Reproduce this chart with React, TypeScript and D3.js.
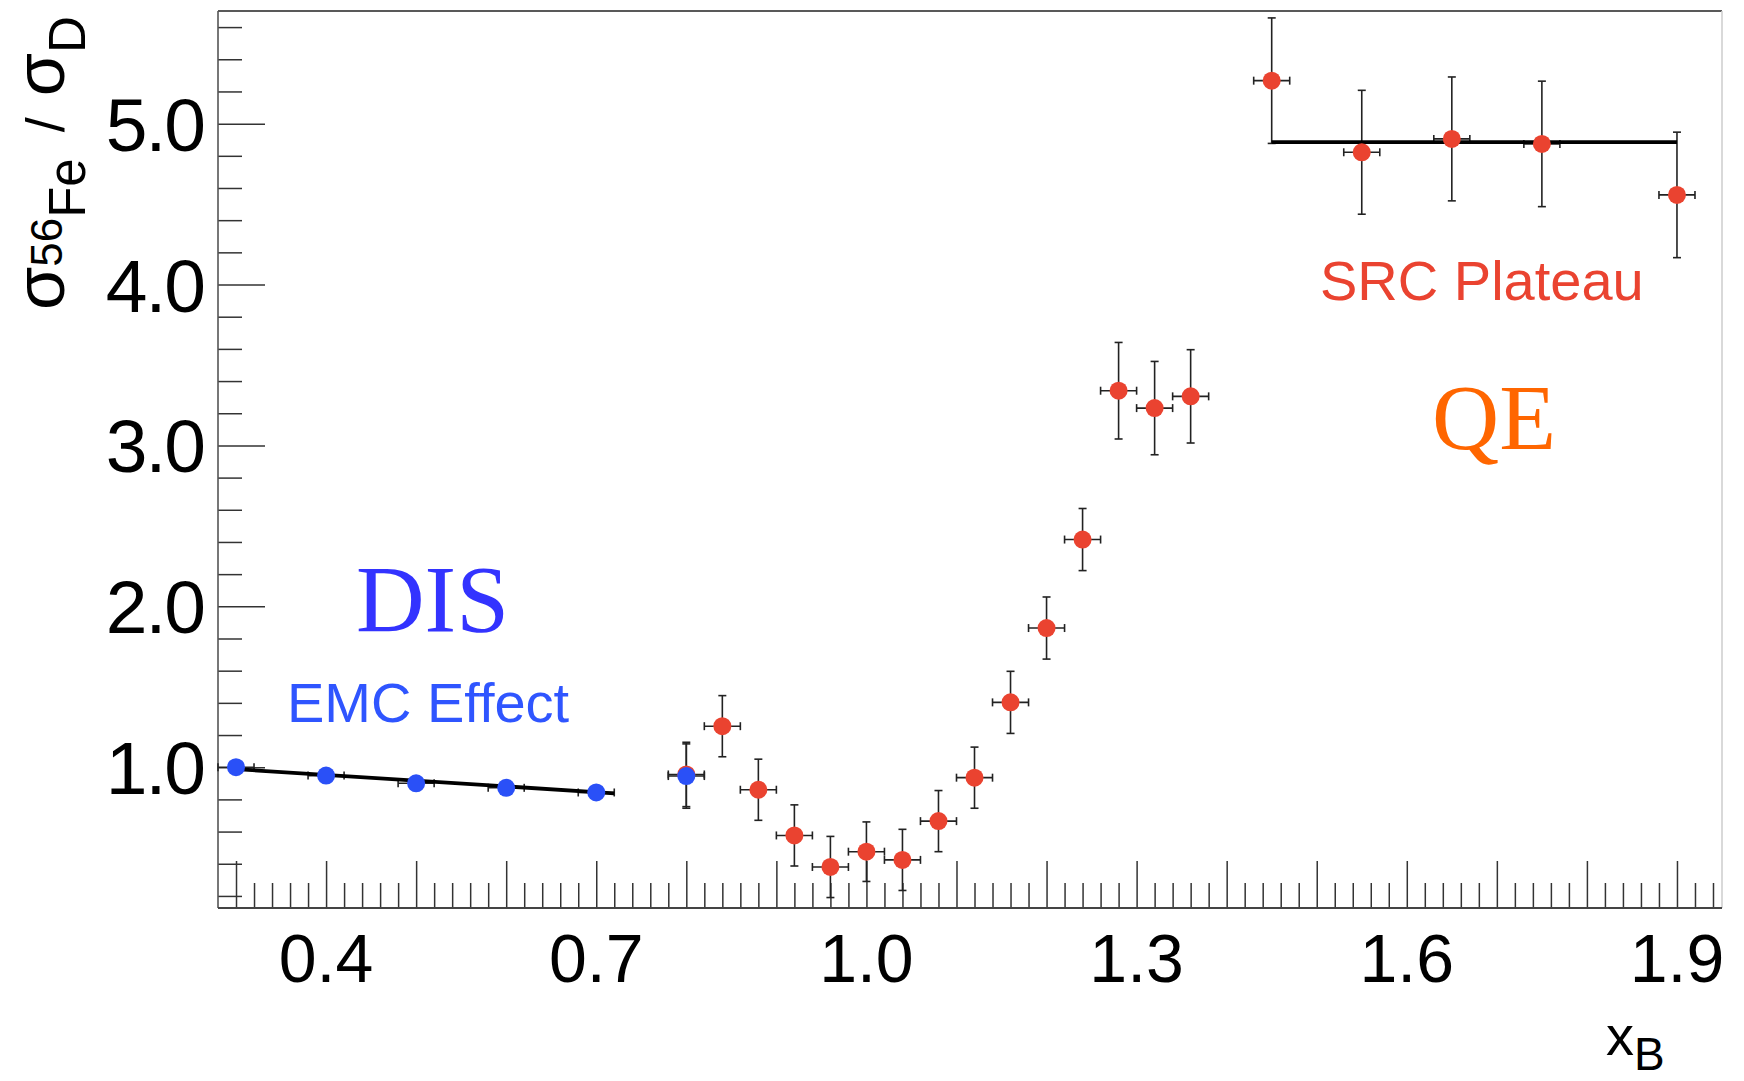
import React, { useEffect, useRef } from "react";
import * as d3 from "d3";

// EMC region (DIS), blue points + linear fit
const emcX = [0.3, 0.4, 0.5, 0.6, 0.7];
const emcY = [1.0, 0.948, 0.9, 0.872, 0.843];
const emcErr = [0.01, 0.01, 0.01, 0.01, 0.01];
const emcFitX = [0.3, 0.72];
const emcFitY = [0.988, 0.838];

// single blue point sitting on top of the first QE point
const blueMidX = [0.8];
const blueMidY = [0.945];
const blueMidErr = [0.2];

// QE region, red points
const qeX = [0.8, 0.84, 0.88, 0.92, 0.96, 1.0, 1.04, 1.08, 1.12, 1.16, 1.2, 1.24, 1.28, 1.32, 1.36];
const qeY = [0.955, 1.255, 0.86, 0.576, 0.38, 0.475, 0.424, 0.665, 0.935, 1.403, 1.865, 2.415, 3.34, 3.232, 3.305];
const qeErr = [0.2, 0.19, 0.19, 0.19, 0.19, 0.185, 0.19, 0.19, 0.19, 0.193, 0.193, 0.193, 0.3, 0.29, 0.29];

// SRC plateau, red points + constant fit
const srcX = [1.45, 1.55, 1.65, 1.75, 1.9];
const srcY = [5.267, 4.822, 4.905, 4.874, 4.557];
const srcErr = [0.39, 0.385, 0.385, 0.39, 0.39];
const srcFitX = [1.45, 1.9];
const srcFitY = [4.885, 4.885];

const binHalfWidth = 0.02;

const xTickLabels = [0.4, 0.7, 1.0, 1.3, 1.6, 1.9];
const yTickLabels = [1, 2, 3, 4, 5];

const RED = "#ea4330";
const BLUE = "#2a50f7";

const App = () => {
  const chartRef = useRef<SVGSVGElement | null>(null);

  useEffect(() => {
    const width = 1744;
    const height = 1081;
    const left = 218, right = 1722, top = 11, bottom = 908;

    const svg = d3.select(chartRef.current);
    svg.selectAll("*").remove();
    svg.attr("width", width).attr("height", height);

    const x = d3.scaleLinear().domain([0.28, 1.95]).range([left, right]);
    const y = d3.scaleLinear().domain([0.125, 5.7]).range([bottom, top]);

    // frame
    svg.append("line").attr("x1", left).attr("x2", right).attr("y1", top).attr("y2", top)
      .attr("stroke", "#222").attr("stroke-width", 1.6);
    svg.append("line").attr("x1", right).attr("x2", right).attr("y1", top).attr("y2", bottom)
      .attr("stroke", "#d0d0d0").attr("stroke-width", 1.6);

    const xMajor = d3.range(3, 20).map((i) => i / 10);
    const xMinor = d3.range(15, 98).map((i) => i * 0.02).filter((v) => Math.abs(v * 10 - Math.round(v * 10)) > 1e-6);
    const yMajor = yTickLabels;
    const yMinor = d3.range(1, 29).map((i) => i * 0.2).filter((v) => Math.abs(v - Math.round(v)) > 1e-6);

    const styleAxis = (g) => {
      g.select(".domain").remove();
      g.selectAll("line").attr("stroke", "#333").attr("stroke-width", 1.5);
    };

    svg.append("g").attr("transform", `translate(0,${bottom})`)
      .call(d3.axisBottom(x).tickValues(xMinor).tickSize(-25).tickFormat(() => ""))
      .call(styleAxis);
    svg.append("g").attr("transform", `translate(0,${bottom})`)
      .call(d3.axisBottom(x).tickValues(xMajor).tickSize(-47).tickFormat(() => ""))
      .call(styleAxis);
    svg.append("g").attr("transform", `translate(${left},0)`)
      .call(d3.axisLeft(y).tickValues(yMinor).tickSize(-24).tickFormat(() => ""))
      .call(styleAxis);
    svg.append("g").attr("transform", `translate(${left},0)`)
      .call(d3.axisLeft(y).tickValues(yMajor).tickSize(-47).tickFormat(() => ""))
      .call(styleAxis);

    // axis lines
    svg.append("line").attr("x1", left).attr("x2", left).attr("y1", top).attr("y2", bottom)
      .attr("stroke", "#555").attr("stroke-width", 1.6);
    svg.append("line").attr("x1", left).attr("x2", right).attr("y1", bottom).attr("y2", bottom)
      .attr("stroke", "#444").attr("stroke-width", 2);

    // tick labels
    svg.append("g").selectAll("text").data(xTickLabels).join("text")
      .attr("x", (d) => x(d)).attr("y", 982)
      .attr("text-anchor", "middle")
      .attr("font-family", "Liberation Sans, Arial, sans-serif")
      .attr("font-size", 68)
      .text((d) => d.toFixed(1));

    svg.append("g").selectAll("text").data(yTickLabels).join("text")
      .attr("x", 204).attr("y", (d) => y(d) + 27)
      .attr("text-anchor", "end")
      .attr("font-family", "Liberation Sans, Arial, sans-serif")
      .attr("font-size", 75)
      .attr("letter-spacing", -2)
      .text((d) => d.toFixed(1));

    // axis titles
    const yTitle = svg.append("text")
      .attr("transform", "translate(64,310) rotate(-90)")
      .attr("font-family", "Liberation Sans, Arial, sans-serif");
    yTitle.append("tspan").attr("font-size", 70).text("σ");
    yTitle.append("tspan").attr("font-size", 44).attr("dy", -2).text("56");
    yTitle.append("tspan").attr("font-size", 51).attr("dy", 23).text("Fe");
    yTitle.append("tspan").attr("font-size", 54).attr("dy", -21).attr("dx", 26).text("/");
    yTitle.append("tspan").attr("font-size", 70).attr("dx", 21).text("σ");
    yTitle.append("tspan").attr("font-size", 51).attr("dy", 21).text("D");

    const xTitle = svg.append("text")
      .attr("x", 1606).attr("y", 1055)
      .attr("font-family", "Liberation Sans, Arial, sans-serif");
    xTitle.append("tspan").attr("font-size", 56).text("x");
    xTitle.append("tspan").attr("font-size", 46).attr("dy", 15).text("B");

    // error bars
    const cap = 4;
    const drawErrors = (xs, ys, errs) => {
      const pts = xs.map((v, i) => ({ x: v, y: ys[i], e: errs[i] }));
      const g = svg.append("g").attr("stroke", "#222").attr("stroke-width", 1.6);
      pts.forEach((p) => {
        const cx = x(p.x), cy = y(p.y);
        const x0 = x(p.x - binHalfWidth), x1 = x(p.x + binHalfWidth);
        const y0 = y(p.y - p.e), y1 = y(p.y + p.e);
        g.append("line").attr("x1", x0).attr("x2", x1).attr("y1", cy).attr("y2", cy);
        g.append("line").attr("x1", x0).attr("x2", x0).attr("y1", cy - cap).attr("y2", cy + cap);
        g.append("line").attr("x1", x1).attr("x2", x1).attr("y1", cy - cap).attr("y2", cy + cap);
        g.append("line").attr("x1", cx).attr("x2", cx).attr("y1", y0).attr("y2", y1);
        g.append("line").attr("x1", cx - cap).attr("x2", cx + cap).attr("y1", y0).attr("y2", y0);
        g.append("line").attr("x1", cx - cap).attr("x2", cx + cap).attr("y1", y1).attr("y2", y1);
      });
    };
    drawErrors(emcX, emcY, emcErr);
    drawErrors(qeX, qeY, qeErr);
    drawErrors(blueMidX, blueMidY, blueMidErr);
    drawErrors(srcX, srcY, srcErr);

    // fit lines
    const line = d3.line<number[]>().x((d) => x(d[0])).y((d) => y(d[1]));
    svg.append("path").datum(emcFitX.map((v, i) => [v, emcFitY[i]]))
      .attr("d", line).attr("fill", "none").attr("stroke", "#000").attr("stroke-width", 3.8);
    svg.append("path").datum(srcFitX.map((v, i) => [v, srcFitY[i]]))
      .attr("d", line).attr("fill", "none").attr("stroke", "#000").attr("stroke-width", 3.8);

    // markers
    const drawMarkers = (xs, ys, color) => {
      svg.append("g").selectAll("circle").data(xs).join("circle")
        .attr("cx", (d) => x(d)).attr("cy", (d, i) => y(ys[i]))
        .attr("r", 9).attr("fill", color);
    };
    drawMarkers(qeX, qeY, RED);
    drawMarkers(srcX, srcY, RED);
    drawMarkers(emcX, emcY, BLUE);
    drawMarkers(blueMidX, blueMidY, BLUE);

    // annotations
    svg.append("text").attr("x", 356).attr("y", 632)
      .attr("font-family", "Liberation Serif, Times New Roman, serif")
      .attr("font-size", 95).attr("fill", "#3333ff").text("DIS");
    svg.append("text").attr("x", 287).attr("y", 722)
      .attr("font-family", "Liberation Sans, Arial, sans-serif")
      .attr("font-size", 56).attr("fill", "#2f55ff").text("EMC Effect");
    svg.append("text").attr("x", 1320).attr("y", 300)
      .attr("font-family", "Liberation Sans, Arial, sans-serif")
      .attr("font-size", 56).attr("fill", RED).text("SRC Plateau");
    svg.append("text").attr("x", 1432).attr("y", 449)
      .attr("font-family", "Liberation Serif, Times New Roman, serif")
      .attr("font-size", 93).attr("fill", "#ff6600").text("QE");
  }, []);

  return (
    <svg ref={chartRef} style={{ position: "absolute", left: 0, top: 0, background: "#fff" }} />
  );
};

export default App;
